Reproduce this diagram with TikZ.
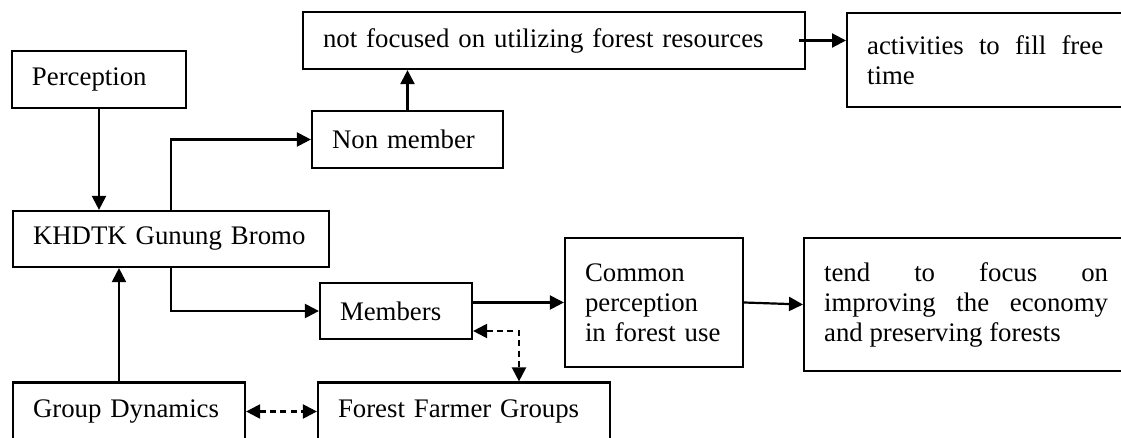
\documentclass[tikz,border=0pt]{standalone}
\usepackage{fontspec}
\setmainfont{Liberation Serif}
\usetikzlibrary{arrows.meta}

\begin{document}
\begin{tikzpicture}[x=0.5pt, y=-0.5pt, line width=1.1pt,
  >={Triangle[length=7pt, width=7pt]},
  box/.style={draw, inner xsep=10pt, inner ysep=0pt, align=left,
    font=\fontsize{13.4}{15}\selectfont},
  dashlink/.style={dash pattern=on 3pt off 2.2pt}]
  \useasboundingbox (0,0) rectangle (1121,438);
  \clip (0,0) rectangle (1121,438);

  % boxes
  \node[box, text width=67pt, minimum height=28.5pt] (percep) at (99,79.5) {Perception};
  \node[box, text width=231pt, minimum height=28.5pt] (notfoc) at (554,40.5) {not focused on utilizing forest resources};
  \node[box, text width=75.5pt, minimum height=28.5pt] (nonmem) at (407.5,139.5) {Non member};
  \node[box, align=justify, text width=118pt, minimum height=47pt, anchor=west] (activ) at (846,60) {activities to fill free\linebreak time};
  \node[box, text width=138pt, minimum height=28pt] (khdtk) at (171,239) {KHDTK Gunung Bromo};
  \node[box, text width=56pt, minimum height=28pt] (members) at (396,311) {Members};
  \node[box, text width=69pt, minimum height=64.5pt] (common) at (654,302.5) {Common\\perception\\in forest use};
  \node[box, align=justify, text width=142pt, minimum height=66.5pt, anchor=west] (tend) at (803,304.5) {tend to focus on\linebreak improving the economy\linebreak and preserving forests};
  \node[box, text width=96pt, minimum height=29pt] (grpdyn) at (129,411.5) {Group Dynamics};
  \node[box, text width=126pt, minimum height=29pt] (ffg) at (464,411.5) {Forest Farmer Groups};
  \coordinate (mf) at (519,331);

  % arrows
  \draw[->] (percep.south) -- (percep.south |- khdtk.north);
  \draw[->] (khdtk.north) |- (nonmem.west);
  \draw[->] (khdtk.south) |- (members.west);
  \draw[->] (nonmem.north) -- (nonmem.north |- notfoc.south);
  \draw[->] ([xshift=-3.5pt]notfoc.east) -- (notfoc.east -| activ.west);
  \draw[->] (members.east |- common.west) -- (common.west);
  \draw[->] (common.east) -- (tend.west);
  \draw[->] ([xshift=-5pt]grpdyn.north) -- ([xshift=-5pt]grpdyn.north |- khdtk.south);
  \draw[dashlink, <->] (grpdyn.east) -- (ffg.west);
  \draw[dashlink, <->] (mf -| members.east) -| (mf |- ffg.north);
\end{tikzpicture}
\end{document}
